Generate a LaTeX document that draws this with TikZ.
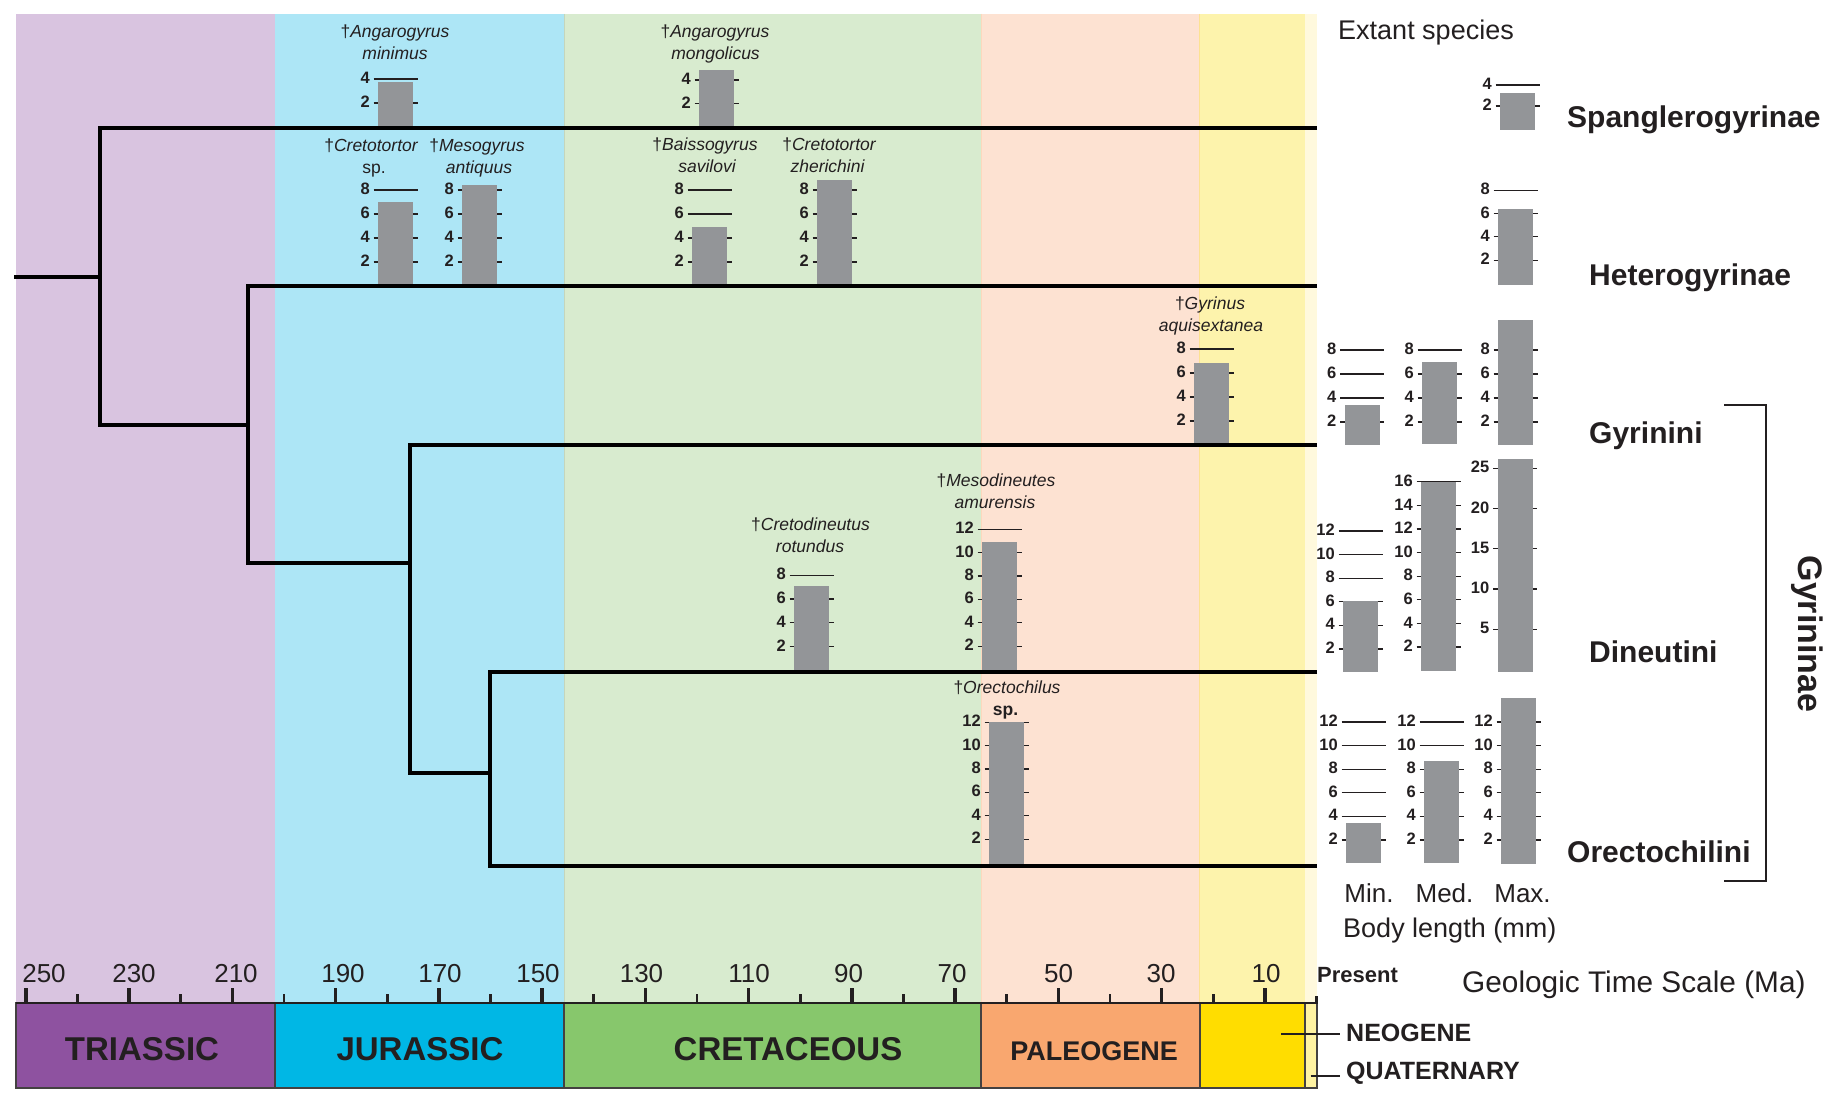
\documentclass[tikz,border=0pt]{standalone}
\usepackage{fontspec}
\setmainfont{Liberation Sans}
\definecolor{bgTri}{HTML}{D9C4E0}
\definecolor{bgJur}{HTML}{ADE6F6}
\definecolor{bgCre}{HTML}{D8EBCF}
\definecolor{bgPal}{HTML}{FDE2D2}
\definecolor{bgNeo}{HTML}{FDF3AC}
\definecolor{bgQua}{HTML}{FFF9DD}
\definecolor{pTri}{HTML}{8E52A0}
\definecolor{pJur}{HTML}{00B7E5}
\definecolor{pCre}{HTML}{87C76C}
\definecolor{pPal}{HTML}{F9A76F}
\definecolor{pNeo}{HTML}{FFDD00}
\definecolor{pQua}{HTML}{FFF3A2}
\definecolor{ink}{HTML}{231F20}
\definecolor{barg}{HTML}{939598}
\newcommand\dg{{\upshape †}}
\newcommand\bchart[7]{%
  \foreach \v in {#6} {
    \draw[tickline] ({#2-4.5},{#3-\v*#4}) -- ({#2+39.5},{#3-\v*#4});
    \node[numlab] (#1-\v) at ({#2-8},{#3-\v*#4-1}) {\v};
  }
  \fill[barg] (#2,#7) rectangle ({#2+35},{#3-#5*#4});
}
\begin{document}
\begin{tikzpicture}[x=1pt,y=-1pt,
  tickline/.style={draw=ink,line width=1.2pt},
  numlab/.style={anchor=east,inner sep=0pt,text=ink,font={\fontsize{16.5}{18}\selectfont\bfseries}},
  splab/.style={anchor=base,inner sep=0pt,text=ink,font={\fontsize{17.5}{20}\selectfont\itshape}},
  tree/.style={draw=black,line width=4pt,line join=miter},
  axlab/.style={anchor=base,inner sep=0pt,text=ink,font={\fontsize{26}{30}\selectfont}},
  perlab/.style={anchor=base,inner sep=0pt,text=ink,font={\fontsize{33}{36}\selectfont\bfseries}},
  perside/.style={anchor=base west,inner sep=0pt,text=ink,font={\fontsize{25}{28}\selectfont\bfseries}},
  cladelab/.style={anchor=base west,inner sep=0pt,text=ink,font={\fontsize{30}{34}\selectfont\bfseries}},
  plainlab/.style={inner sep=0pt,text=ink,font={\fontsize{26}{30}\selectfont}},
  leader/.style={draw=ink,line width=2pt},
  majtick/.style={draw=ink,line width=3.3pt},
  mintick/.style={draw=ink,line width=2.8pt},
  boxline/.style={draw=ink!85,line width=2pt}
]
\useasboundingbox (0,0) rectangle (1833,1105);
\fill[white] (0,0) rectangle (1833,1105);
% background bands
\fill[bgTri] (16,14) rectangle (275,1003);
\fill[bgJur] (275,14) rectangle (564,1003);
\fill[bgCre] (564,14) rectangle (981,1003);
\fill[bgPal] (981,14) rectangle (1199.5,1003);
\fill[bgNeo] (1199.5,14) rectangle (1304.5,1003);
\fill[bgQua] (1304.5,14) rectangle (1316.5,1003);
\draw[draw=bgCre!85!black!60!bgCre,line width=1pt] (564.5,14) -- (564.5,1003);
\draw[draw=bgPal!90!orange,line width=1pt] (981,14) -- (981,1003);
\draw[draw=bgNeo!85!orange,line width=1pt] (1199.5,14) -- (1199.5,1003);
% time scale box
\fill[pTri] (16,1003) rectangle (275,1088);
\fill[pJur] (275,1003) rectangle (564,1088);
\fill[pCre] (564,1003) rectangle (981,1088);
\fill[pPal] (981,1003) rectangle (1199.5,1088);
\fill[pNeo] (1199.5,1003) rectangle (1304.5,1088);
\fill[pQua] (1304.5,1003) rectangle (1316.5,1088);
\draw[boxline] (16,1003) rectangle (1316.5,1088);
\foreach \xx in {275,564,981,1199.5,1304.5} \draw[boxline] (\xx,1003) -- (\xx,1088);
\draw[draw=ink,line width=2.8pt] (16,1003) -- (1318,1003);
\foreach \m in {10,30,...,250} \draw[majtick] ({1316.5-5.1625*\m},988) -- ({1316.5-5.1625*\m},1003);
\foreach \m in {20,40,...,240} \draw[mintick] ({1316.5-5.1625*\m},994) -- ({1316.5-5.1625*\m},1003);
\draw[mintick] (1316.5,996) -- (1316.5,1003);
\foreach \lab/\xx in {250/44,230/134,210/236,190/343,170/440,150/538,130/641.5,110/749,90/848.5,70/952,50/1058.5,30/1161,10/1266}
  \node[axlab] (ax\lab) at (\xx,982) {\lab};
\node[anchor=base west,inner sep=0pt,text=ink,font={\fontsize{22}{24}\selectfont\bfseries}] (present) at (1317,982) {Present};
\node[plainlab,anchor=base west,font={\fontsize{29.8}{33}\selectfont}] (gts) at (1462,992) {Geologic Time Scale (Ma)};
\node[perlab] (tri) at (142,1060) {TRIASSIC};
\node[perlab] (jur) at (420,1060) {JURASSIC};
\node[perlab] (cre) at (788,1060) {CRETACEOUS};
\node[perlab,font={\fontsize{27}{30}\selectfont\bfseries}] (pal) at (1094,1060) {PALEOGENE};
\node[perside] (neo) at (1346,1041) {NEOGENE};
\node[perside] (qua) at (1346,1079) {QUATERNARY};
\coordinate (neoP) at (1281,1033.5); \coordinate (neoA) at (1340,1033.5);
\coordinate (quaP) at (1310.5,1075.5); \coordinate (quaA) at (1340,1075.5);
\draw[leader] (neoP) -- (neoA);
\draw[leader] (quaP) -- (quaA);
% bar charts (fossil)
\bchart{c1}{378}{127}{12}{3.75}{2,4}{128}
\bchart{c2}{699}{126.5}{11.6}{4.9}{2,4}{128}
\bchart{c3}{378}{286}{12}{7}{2,4,6,8}{286}
\bchart{c4}{462}{286}{12}{8.4}{2,4,6,8}{286}
\bchart{c5}{692}{286}{12}{4.9}{2,4,6,8}{286}
\bchart{c6}{817}{286}{12}{8.85}{2,4,6,8}{286}
\bchart{c7}{1194}{445}{12}{6.8}{2,4,6,8}{445}
\bchart{c8}{794}{670}{11.85}{7.1}{2,4,6,8}{672}
\bchart{c9}{982}{669.5}{11.7}{10.9}{2,4,6,8,10,12}{672}
\bchart{c10}{989}{862.5}{11.7}{12}{2,4,6,8,10,12}{866}
% bar charts (extant)
\bchart{e1}{1500}{127}{10.5}{3.2}{2,4}{130}
\bchart{e2}{1498}{283.5}{11.67}{6.4}{2,4,6,8}{285}
\bchart{e3}{1344.5}{446}{12}{3.4}{2,4,6,8}{445}
\bchart{e4}{1422}{446}{12}{7}{2,4,6,8}{444}
\bchart{e5}{1498}{446}{12}{10.5}{2,4,6,8}{445}
\bchart{e6}{1343}{672.5}{11.8}{6.05}{2,4,6,8,10,12}{672}
\bchart{e7}{1421}{670.5}{11.79}{16}{2,4,6,8,10,12,14,16}{671}
\bchart{e8}{1497.5}{669.5}{8.05}{26.1}{5,10,15,20,25}{672}
\bchart{e9}{1346}{863.5}{11.8}{3.45}{2,4,6,8,10,12}{863}
\bchart{e10}{1424}{863.5}{11.8}{8.7}{2,4,6,8,10,12}{863}
\bchart{e11}{1501}{863.5}{11.8}{14}{2,4,6,8,10,12}{864}
% tree
\coordinate (r0) at (14,277);
\coordinate (a) at (100,277);
\coordinate (aT) at (100,128); \coordinate (aB) at (100,425);
\coordinate (tSp) at (1317,128);
\coordinate (bT) at (248,286); \coordinate (bB) at (248,563); \coordinate (b) at (248,425);
\coordinate (tHe) at (1317,286);
\coordinate (cT) at (410,445); \coordinate (cB) at (410,773); \coordinate (c) at (410,563);
\coordinate (tGy) at (1317,445);
\coordinate (dT) at (490,672); \coordinate (dB) at (490,866); \coordinate (d) at (490,773);
\coordinate (tDi) at (1317,672); \coordinate (tOr) at (1317,866);
\draw[tree] (r0) -- (a);
\draw[tree] (tSp) -- (aT) -- (aB) -- (b);
\draw[tree] (tHe) -- (bT) -- (bB) -- (c);
\draw[tree] (tGy) -- (cT) -- (cB) -- (d);
\draw[tree] (tDi) -- (dT) -- (dB) -- (tOr);
% species labels
\node[splab] (c1a) at (395,38) {\dg Angarogyrus};
\node[splab] (c1b) at (395,60) {minimus};
\node[splab] (c2a) at (715,38) {\dg Angarogyrus};
\node[splab] (c2b) at (715.5,60) {mongolicus};
\node[splab] (c3a) at (371,151) {\dg Cretotortor};
\node[splab] (c3b) at (374,173) {\upshape sp.};
\node[splab] (c4a) at (477,151) {\dg Mesogyrus};
\node[splab] (c4b) at (479,173) {antiquus};
\node[splab] (c5a) at (705,150) {\dg Baissogyrus};
\node[splab] (c5b) at (707,172) {savilovi};
\node[splab] (c6a) at (829,150) {\dg Cretotortor};
\node[splab] (c6b) at (827.5,172) {zherichini};
\node[splab] (c7a) at (1210,309.5) {\dg Gyrinus};
\node[splab] (c7b) at (1211,331.5) {aquisextanea};
\node[splab] (c8a) at (810.5,530.5) {\dg Cretodineutus};
\node[splab] (c8b) at (810,552) {rotundus};
\node[splab] (c9a) at (996,486.5) {\dg Mesodineutes};
\node[splab] (c9b) at (995,508) {amurensis};
\node[splab] (c10a) at (1007,693) {\dg Orectochilus};
\node[splab] (c10b) at (1005.5,715) {\upshape\bfseries sp.};
% right side labels
\node[plainlab,anchor=base west,font={\fontsize{27}{30}\selectfont}] (extant) at (1338,39.5) {Extant species};
\node[cladelab] (spang) at (1567,128) {Spanglerogyrinae};
\node[cladelab] (hetero) at (1589,285) {Heterogyrinae};
\node[cladelab] (gyrini) at (1589,443) {Gyrinini};
\node[cladelab] (dine) at (1589,662) {Dineutini};
\node[cladelab] (orect) at (1567,862) {Orectochilini};
\node[plainlab,anchor=base] (minl) at (1369,902) {Min.};
\node[plainlab,anchor=base] (medl) at (1444.5,902) {Med.};
\node[plainlab,anchor=base] (maxl) at (1522.5,902) {Max.};
\node[plainlab,anchor=base west,font={\fontsize{27}{30}\selectfont}] (body) at (1343,937) {Body length (mm)};
\coordinate (brT) at (1724,405); \coordinate (brTR) at (1766,405);
\coordinate (brBR) at (1766,881); \coordinate (brB) at (1724,881);
\draw[draw=ink,line width=2.7pt,line join=miter] (brT) -- (brTR) -- (brBR) -- (brB);
\node[anchor=base,inner sep=0pt,text=ink,rotate=-90,font={\fontsize{34}{36}\selectfont\bfseries}] (gyrinae) at (1798,634) {Gyrininae};
\end{tikzpicture}
\end{document}
